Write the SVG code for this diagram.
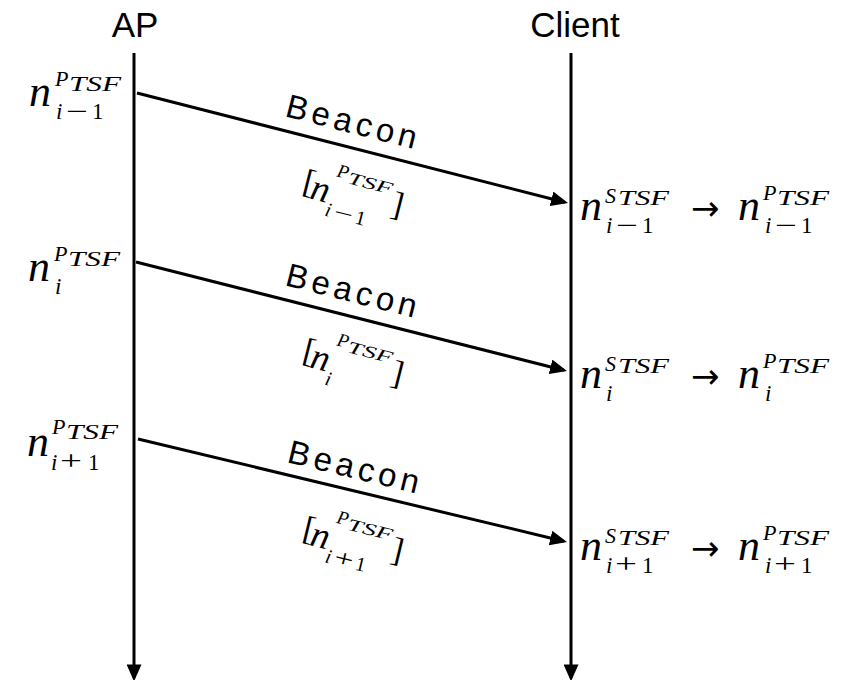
<svg xmlns="http://www.w3.org/2000/svg" width="853" height="680" viewBox="0 0 853 680">
<defs>
<style>
.hdr{font-family:"Liberation Sans",Arial,sans-serif;font-size:35px;fill:#000;text-anchor:middle}
.bc{font-family:"Liberation Sans",Arial,sans-serif;font-size:33px;fill:#000}
.mi{font-family:"Liberation Serif","Times New Roman",serif;font-style:italic;fill:#000}
.mn{font-family:"Liberation Serif","Times New Roman",serif;fill:#000}
.ar{font-family:"DejaVu Sans",sans-serif;fill:#000}
.ln{stroke:#000;stroke-width:3;fill:none}
</style>
<marker id="ah" viewBox="0 0 10 10" refX="8" refY="5" markerWidth="17" markerHeight="15" markerUnits="userSpaceOnUse" orient="auto" preserveAspectRatio="none">
<path d="M0,0 L10,5 L0,10 z" fill="#000"/>
</marker>
</defs>
<rect width="853" height="680" fill="#fff"/>

<g id="node-ap"><text class="hdr" x="135" y="37">AP</text></g>
<g id="node-client"><text class="hdr" x="575" y="37">Client</text></g>

<g id="connectors">
<line class="ln" x1="134" y1="53" x2="134" y2="678" marker-end="url(#ah)"/>
<line class="ln" x1="571" y1="53" x2="571" y2="678" marker-end="url(#ah)"/>
<line class="ln" x1="137" y1="93" x2="564.7" y2="202.2" marker-end="url(#ah)"/>
<line class="ln" x1="136" y1="262" x2="563.7" y2="370.2" marker-end="url(#ah)"/>
<line class="ln" x1="138" y1="439" x2="563.7" y2="541.2" marker-end="url(#ah)"/>
</g>

<!-- AP side labels -->
<g id="ap-label-1" transform="translate(29,106)">
<text class="mi" font-size="44" x="0" y="0">n</text>
<text class="mi" font-size="22" x="26" y="-20">P</text>
<text class="mi" font-size="20" x="40" y="-15" textLength="52" lengthAdjust="spacingAndGlyphs">TSF</text>
<text class="mi" font-size="23" x="27" y="13">i</text>
<text class="mn" font-size="23" x="37" y="13" textLength="22" lengthAdjust="spacingAndGlyphs">−</text>
<text class="mn" font-size="23" x="63" y="13">1</text>
</g>
<g id="ap-label-2" transform="translate(28,281)">
<text class="mi" font-size="44" x="0" y="0">n</text>
<text class="mi" font-size="22" x="26" y="-20">P</text>
<text class="mi" font-size="20" x="40" y="-15" textLength="52" lengthAdjust="spacingAndGlyphs">TSF</text>
<text class="mi" font-size="23" x="27" y="13">i</text>
</g>
<g id="ap-label-3" transform="translate(27,456)">
<text class="mi" font-size="44" x="0" y="0">n</text>
<text class="mi" font-size="22" x="25" y="-22">P</text>
<text class="mi" font-size="20" x="39" y="-17" textLength="52" lengthAdjust="spacingAndGlyphs">TSF</text>
<text class="mi" font-size="23" x="24" y="14">i</text>
<text class="mn" font-size="28" x="33" y="14" textLength="22" lengthAdjust="spacingAndGlyphs">+</text>
<text class="mn" font-size="23" x="61" y="14">1</text>
</g>

<!-- Beacon labels -->
<g id="beacon-1">
<text class="bc" transform="translate(284,116) rotate(14.3)" x="0" y="0" textLength="134" lengthAdjust="spacing">Beacon</text>
<g transform="translate(300,196) rotate(14.3)">
<text class="mn" font-size="34" x="0" y="-5">[</text>
<text class="mi" font-size="37" x="9" y="0">n</text>
<text class="mi" font-size="19" x="30" y="-28">P</text>
<text class="mi" font-size="17" x="42" y="-24" textLength="46" lengthAdjust="spacingAndGlyphs">TSF</text>
<text class="mi" font-size="20" x="28" y="13">i</text>
<text class="mn" font-size="20" x="37" y="13" textLength="19" lengthAdjust="spacingAndGlyphs">−</text>
<text class="mn" font-size="20" x="59" y="13">1</text>
<text class="mn" font-size="34" x="91" y="-5">]</text>
</g>
</g>
<g id="beacon-2">
<text class="bc" transform="translate(284,285) rotate(14.2)" x="0" y="0" textLength="134" lengthAdjust="spacing">Beacon</text>
<g transform="translate(300,365) rotate(14.2)">
<text class="mn" font-size="34" x="0" y="-5">[</text>
<text class="mi" font-size="37" x="9" y="0">n</text>
<text class="mi" font-size="19" x="30" y="-28">P</text>
<text class="mi" font-size="17" x="42" y="-24" textLength="46" lengthAdjust="spacingAndGlyphs">TSF</text>
<text class="mi" font-size="20" x="28" y="13">i</text>
<text class="mn" font-size="34" x="91" y="-5">]</text>
</g>
</g>
<g id="beacon-3">
<text class="bc" transform="translate(286,462) rotate(13.6)" x="0" y="0" textLength="134" lengthAdjust="spacing">Beacon</text>
<g transform="translate(300,543) rotate(13.6)">
<text class="mn" font-size="34" x="0" y="-5">[</text>
<text class="mi" font-size="37" x="9" y="0">n</text>
<text class="mi" font-size="19" x="30" y="-28">P</text>
<text class="mi" font-size="17" x="42" y="-24" textLength="46" lengthAdjust="spacingAndGlyphs">TSF</text>
<text class="mi" font-size="20" x="28" y="13">i</text>
<text class="mn" font-size="24" x="37" y="13" textLength="19" lengthAdjust="spacingAndGlyphs">+</text>
<text class="mn" font-size="20" x="59" y="13">1</text>
<text class="mn" font-size="34" x="91" y="-5">]</text>
</g>
</g>

<!-- Client side labels -->
<g id="client-label-1" transform="translate(580,220)">
<text class="mi" font-size="44" x="0" y="0">n</text>
<text class="mi" font-size="22" x="25" y="-17">S</text>
<text class="mi" font-size="20" x="38" y="-15" textLength="51" lengthAdjust="spacingAndGlyphs">TSF</text>
<text class="mi" font-size="23" x="26" y="13">i</text>
<text class="mn" font-size="23" x="36" y="13" textLength="22" lengthAdjust="spacingAndGlyphs">−</text>
<text class="mn" font-size="23" x="62" y="13">1</text>
<text class="ar" font-size="34" x="111" y="0">→</text>
<text class="mi" font-size="44" x="158" y="0">n</text>
<text class="mi" font-size="22" x="183" y="-20">P</text>
<text class="mi" font-size="20" x="197" y="-15" textLength="52" lengthAdjust="spacingAndGlyphs">TSF</text>
<text class="mi" font-size="23" x="185" y="13">i</text>
<text class="mn" font-size="23" x="195" y="13" textLength="22" lengthAdjust="spacingAndGlyphs">−</text>
<text class="mn" font-size="23" x="221" y="13">1</text>
</g>
<g id="client-label-2" transform="translate(580,388)">
<text class="mi" font-size="44" x="0" y="0">n</text>
<text class="mi" font-size="22" x="25" y="-17">S</text>
<text class="mi" font-size="20" x="38" y="-15" textLength="51" lengthAdjust="spacingAndGlyphs">TSF</text>
<text class="mi" font-size="23" x="26" y="13">i</text>
<text class="ar" font-size="34" x="111" y="0">→</text>
<text class="mi" font-size="44" x="158" y="0">n</text>
<text class="mi" font-size="22" x="183" y="-20">P</text>
<text class="mi" font-size="20" x="197" y="-15" textLength="52" lengthAdjust="spacingAndGlyphs">TSF</text>
<text class="mi" font-size="23" x="185" y="13">i</text>
</g>
<g id="client-label-3" transform="translate(580,560)">
<text class="mi" font-size="44" x="0" y="0">n</text>
<text class="mi" font-size="22" x="25" y="-17">S</text>
<text class="mi" font-size="20" x="38" y="-15" textLength="51" lengthAdjust="spacingAndGlyphs">TSF</text>
<text class="mi" font-size="23" x="26" y="13">i</text>
<text class="mn" font-size="28" x="35" y="13" textLength="22" lengthAdjust="spacingAndGlyphs">+</text>
<text class="mn" font-size="23" x="62" y="13">1</text>
<text class="ar" font-size="34" x="111" y="0">→</text>
<text class="mi" font-size="44" x="158" y="0">n</text>
<text class="mi" font-size="22" x="183" y="-20">P</text>
<text class="mi" font-size="20" x="197" y="-15" textLength="52" lengthAdjust="spacingAndGlyphs">TSF</text>
<text class="mi" font-size="23" x="185" y="13">i</text>
<text class="mn" font-size="28" x="194" y="13" textLength="22" lengthAdjust="spacingAndGlyphs">+</text>
<text class="mn" font-size="23" x="221" y="13">1</text>
</g>
</svg>
